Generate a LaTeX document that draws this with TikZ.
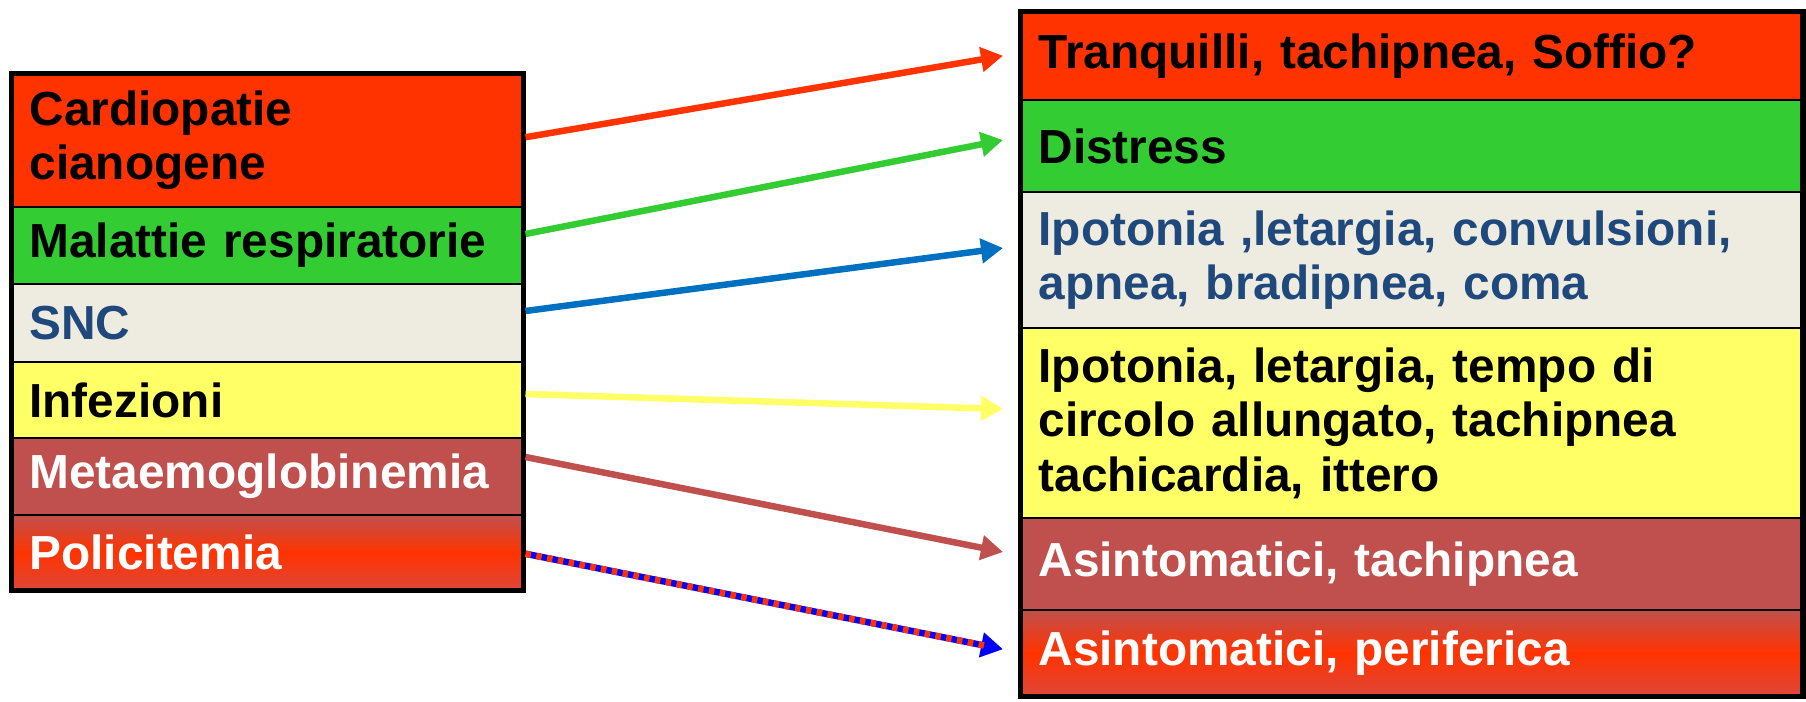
\documentclass[tikz,border=0pt]{standalone}
\usepackage{fontspec}
\setmainfont{Liberation Sans}
\usetikzlibrary{arrows.meta,positioning}

\definecolor{cRed}{HTML}{FF3300}
\definecolor{cGreen}{HTML}{33CC33}
\definecolor{cGrey}{HTML}{EEECE1}
\definecolor{cYellow}{HTML}{FFFF66}
\definecolor{cBrown}{HTML}{C0504D}
\definecolor{cBrownB}{HTML}{DE463A}
\definecolor{cNavy}{HTML}{1F497D}
\definecolor{cBlue}{HTML}{0070C0}
\definecolor{cPure}{HTML}{0000FF}

\begin{document}
\begin{tikzpicture}[x=1pt,y=1pt,
  lcell/.style={draw=black, line width=2pt, outer sep=0pt, inner xsep=18pt, inner ysep=0pt,
    text width=476pt, align=left, font=\fontsize{47.8}{54.5}\selectfont\bfseries, anchor=north west},
  rcell/.style={lcell, text width=746.5pt},
  link/.style={line width=6.5pt, -{Triangle[length=22pt,width=24pt]}}]
\useasboundingbox (0,-701) rectangle (1806,0);
% causes
\node[lcell, fill=cRed, minimum height=133.5pt] (cardio) at (11.5,-73.5) {Cardiopatie\\cianogene};
\node[lcell, fill=cGreen, minimum height=77pt, below=0pt of cardio] (resp) {Malattie respiratorie};
\node[lcell, fill=cGrey, text=cNavy, minimum height=78pt, below=0pt of resp] (snc) {SNC};
\node[lcell, fill=cYellow, minimum height=76pt, below=0pt of snc] (infez) {Infezioni};
\node[lcell, fill=cBrown, text=white, minimum height=77pt, below=0pt of infez] (metae) {Metaemoglobinemia};
\node[lcell, top color=cBrown, bottom color=cBrownB, middle color=cRed, text=white,
  minimum height=75.5pt, below=0pt of metae] (polic) {Policitemia};
\draw[line width=5.5pt] (cardio.north west) rectangle (polic.south east);
% signs
\node[rcell, fill=cRed, minimum height=88.5pt] (tranq) at (1020.5,-11.5) {Tranquilli, tachipnea, Soffio?};
\node[rcell, fill=cGreen, minimum height=92pt, below=0pt of tranq] (distr) {Distress};
\node[rcell, fill=cGrey, text=cNavy, minimum height=136pt, below=0pt of distr] (neuro) {Ipotonia ,letargia, convulsioni,\\apnea, bradipnea, coma};
\node[rcell, fill=cYellow, minimum height=190pt, below=0pt of neuro] (sepsi) {Ipotonia, letargia, tempo di\\circolo allungato, tachipnea\\tachicardia, ittero};
\node[rcell, fill=cBrown, text=white, minimum height=92pt, below=0pt of sepsi] (asint) {Asintomatici, tachipnea};
\node[rcell, top color=cBrown, bottom color=cBrownB, middle color=cRed, text=white,
  minimum height=86.5pt, below=0pt of asint] (perif) {Asintomatici, periferica};
\draw[line width=5.5pt] (tranq.north west) rectangle (perif.south east);
% links
\draw[link, cRed] ([xshift=2pt,yshift=3pt]cardio.east) -- ([xshift=-17.5pt]tranq.west);
\draw[link, cGreen] ([xshift=2pt,yshift=11.5pt]resp.east) -- ([xshift=-17.5pt,yshift=6pt]distr.west);
\draw[link, cBlue] ([xshift=2pt,yshift=12pt]snc.east) -- ([xshift=-17.5pt,yshift=12pt]neuro.west);
\draw[link, cYellow] ([xshift=2pt,yshift=6pt]infez.east) -- ([xshift=-17.5pt,yshift=14pt]sepsi.west);
\draw[link, cBrown] ([xshift=2pt,yshift=19.5pt]metae.east) -- ([xshift=-17.5pt,yshift=12pt]asint.west);
\draw[link, cPure] ([xshift=2pt,yshift=-1pt]polic.east) -- ([xshift=-17.5pt,yshift=4pt]perif.west);
\draw[cRed, line width=6.5pt, dash pattern=on 5.5pt off 5.5pt, shorten >=14pt]
  ([xshift=2pt,yshift=-1pt]polic.east) -- ([xshift=-17.5pt,yshift=4pt]perif.west);
\end{tikzpicture}
\end{document}
